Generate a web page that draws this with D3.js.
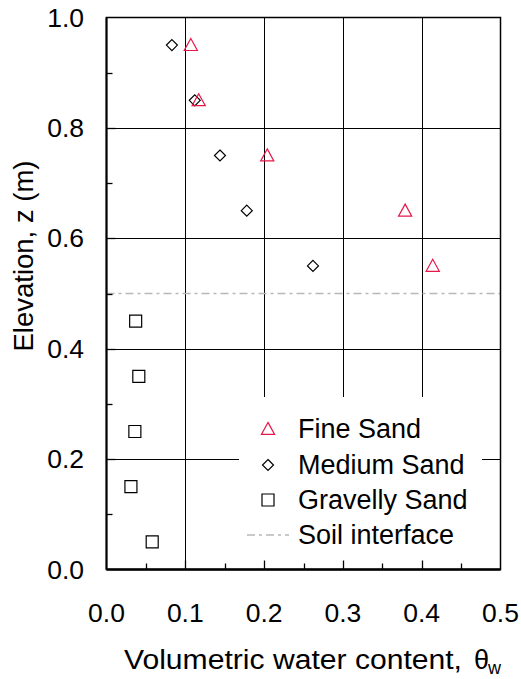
<!DOCTYPE html>
<html>
<head>
<meta charset="utf-8">
<script src="https://cdn.jsdelivr.net/npm/d3@7"></script>
<style>
  body { margin: 0; background: #fff; }
  text { font-family: "Liberation Sans", Arial, sans-serif; fill: #000; }
</style>
</head>
<body>
<div id="chart"></div>
<script>
// data
var elevations = [0.95, 0.85, 0.75, 0.65, 0.55];
var fineSand = [0.107, 0.117, 0.204, 0.379, 0.414];
var mediumSand = [0.083, 0.112, 0.144, 0.178, 0.262];
var gravelElev = [0.45, 0.35, 0.25, 0.15, 0.05];
var gravellySand = [0.037, 0.041, 0.036, 0.031, 0.058];
var interfaceZ = 0.5;
var xTicks = [0.0, 0.1, 0.2, 0.3, 0.4, 0.5];
var yTicks = [0.0, 0.2, 0.4, 0.6, 0.8, 1.0];
var legendLabels = ["Fine Sand", "Medium Sand", "Gravelly Sand", "Soil interface"];

var W = 521, H = 679;
var margin = {top: 17.5, right: 20.5, bottom: 109.5, left: 106.5};

var x = d3.scaleLinear().domain([0, 0.5]).range([margin.left, W - margin.right]);
var y = d3.scaleLinear().domain([0, 1]).range([H - margin.bottom, margin.top]);

var svg = d3.select("#chart").append("svg")
  .attr("width", W)
  .attr("height", H);

var red = "#e8174a";

// grid
svg.selectAll("line.gx")
  .data(xTicks.slice(1, -1))
  .enter().append("line")
  .attr("x1", d => Math.round(x(d)) + 0.5).attr("x2", d => Math.round(x(d)) + 0.5)
  .attr("y1", y(1)).attr("y2", y(0))
  .attr("stroke", "#000").attr("stroke-width", 1);
svg.selectAll("line.gy")
  .data(yTicks.slice(1, -1))
  .enter().append("line")
  .attr("x1", x(0)).attr("x2", x(0.5))
  .attr("y1", d => Math.round(y(d)) + 0.5).attr("y2", d => Math.round(y(d)) + 0.5)
  .attr("stroke", "#000").attr("stroke-width", 1);

// soil interface line
var dashPattern = "8,4,3,4";
svg.append("line")
  .attr("x1", x(0)).attr("x2", x(0.5))
  .attr("y1", y(interfaceZ)).attr("y2", y(interfaceZ))
  .attr("stroke", "#b8b8b8").attr("stroke-width", 1.5)
  .attr("stroke-dasharray", dashPattern);

// legend background hides grid
svg.append("rect")
  .attr("x", 239).attr("y", 397)
  .attr("width", 243).attr("height", y(0) - 397)
  .attr("fill", "#fff");

// minor/major ticks inside
var xMinor = d3.range(1, 10).map(i => i * 0.05);
svg.selectAll("line.tx")
  .data(xMinor)
  .enter().append("line")
  .attr("x1", d => Math.round(x(d)) + 0.5).attr("x2", d => Math.round(x(d)) + 0.5)
  .attr("y1", y(0)).attr("y2", (d, i) => y(0) - (i % 2 ? 9 : 6))
  .attr("stroke", "#000").attr("stroke-width", 1.3);
var yMinor = d3.range(1, 10).map(i => i * 0.1);
svg.selectAll("line.ty")
  .data(yMinor)
  .enter().append("line")
  .attr("x1", x(0)).attr("x2", (d, i) => x(0) + (i % 2 ? 9 : 6))
  .attr("y1", d => Math.round(y(d)) + 0.5).attr("y2", d => Math.round(y(d)) + 0.5)
  .attr("stroke", "#000").attr("stroke-width", 1.3);

// frame
svg.append("rect")
  .attr("x", x(0)).attr("y", y(1))
  .attr("width", x(0.5) - x(0)).attr("height", y(0) - y(1))
  .attr("fill", "none").attr("stroke", "#000").attr("stroke-width", 1.5);
svg.append("line")
  .attr("x1", x(0)).attr("x2", x(0.5)).attr("y1", y(0)).attr("y2", y(0))
  .attr("stroke", "#000").attr("stroke-width", 2.5);
svg.append("line")
  .attr("x1", x(0)).attr("x2", x(0)).attr("y1", y(0)).attr("y2", y(1))
  .attr("stroke", "#000").attr("stroke-width", 2);

// tick labels
svg.selectAll("text.xl")
  .data(xTicks)
  .enter().append("text")
  .attr("x", d => x(d)).attr("y", 622)
  .attr("text-anchor", "middle")
  .style("font-size", "26.5px")
  .text(d => d.toFixed(1));
svg.selectAll("text.yl")
  .data(yTicks)
  .enter().append("text")
  .attr("x", 84).attr("y", d => y(d) + 9)
  .attr("text-anchor", "end")
  .style("font-size", "26.5px")
  .text(d => d.toFixed(1));

// axis titles
svg.append("text")
  .attr("x", 124).attr("y", 669)
  .attr("textLength", 338).attr("lengthAdjust", "spacingAndGlyphs")
  .style("font-size", "27px")
  .text("Volumetric water content,");
svg.append("text")
  .attr("x", 474).attr("y", 669)
  .style("font-size", "27px")
  .text("\u03B8");
svg.append("text")
  .attr("x", 488).attr("y", 674)
  .style("font-size", "18px")
  .text("w");

svg.append("text")
  .attr("transform", "translate(33,256) rotate(-90)")
  .attr("text-anchor", "middle")
  .style("font-size", "27.5px")
  .text("Elevation, z (m)");

// marker shapes
function triPath(s) { return `M0,${-s*0.55}L${s*0.55},${s*0.45}L${-s*0.55},${s*0.45}Z`; }
function diaPath(s) { return `M0,${-s/2}L${s/2},0L0,${s/2}L${-s/2},0Z`; }
function sqPath(s) { return `M${-s/2},${-s/2}h${s}v${s}h${-s}Z`; }

var fineData = elevations.map((z, i) => ({x: fineSand[i], z: z}));
var medData = elevations.map((z, i) => ({x: mediumSand[i], z: z}));
var gravData = gravelElev.map((z, i) => ({x: gravellySand[i], z: z}));

svg.selectAll("path.sq")
  .data(gravData)
  .enter().append("path")
  .attr("transform", d => `translate(${x(d.x)},${y(d.z)})`)
  .attr("d", sqPath(12))
  .attr("fill", "none").attr("stroke", "#000").attr("stroke-width", 1.2);
svg.selectAll("path.di")
  .data(medData)
  .enter().append("path")
  .attr("transform", d => `translate(${x(d.x)},${y(d.z)})`)
  .attr("d", diaPath(11))
  .attr("fill", "none").attr("stroke", "#000").attr("stroke-width", 1.2);
svg.selectAll("path.tr")
  .data(fineData)
  .enter().append("path")
  .attr("transform", d => `translate(${x(d.x)},${y(d.z)})`)
  .attr("d", triPath(12))
  .attr("fill", "none").attr("stroke", red).attr("stroke-width", 1.2);

// legend
var legY = [429, 465, 500, 535];
var leg = svg.append("g");
leg.append("path").attr("transform", `translate(268,${legY[0]})`).attr("d", triPath(12))
  .attr("fill", "none").attr("stroke", red).attr("stroke-width", 1.2);
leg.append("path").attr("transform", `translate(268,${legY[1]})`).attr("d", diaPath(11))
  .attr("fill", "none").attr("stroke", "#000").attr("stroke-width", 1.2);
leg.append("path").attr("transform", `translate(268,${legY[2]})`).attr("d", sqPath(12))
  .attr("fill", "none").attr("stroke", "#000").attr("stroke-width", 1.2);
leg.append("line")
  .attr("x1", 247).attr("x2", 289).attr("y1", legY[3]).attr("y2", legY[3])
  .attr("stroke", "#b8b8b8").attr("stroke-width", 1.5)
  .attr("stroke-dasharray", dashPattern);
leg.selectAll("text")
  .data(legendLabels)
  .enter().append("text")
  .attr("x", 298).attr("y", (d, i) => legY[i] + 8.5)
  .style("font-size", "27px")
  .text(d => d);
</script>
</body>
</html>
